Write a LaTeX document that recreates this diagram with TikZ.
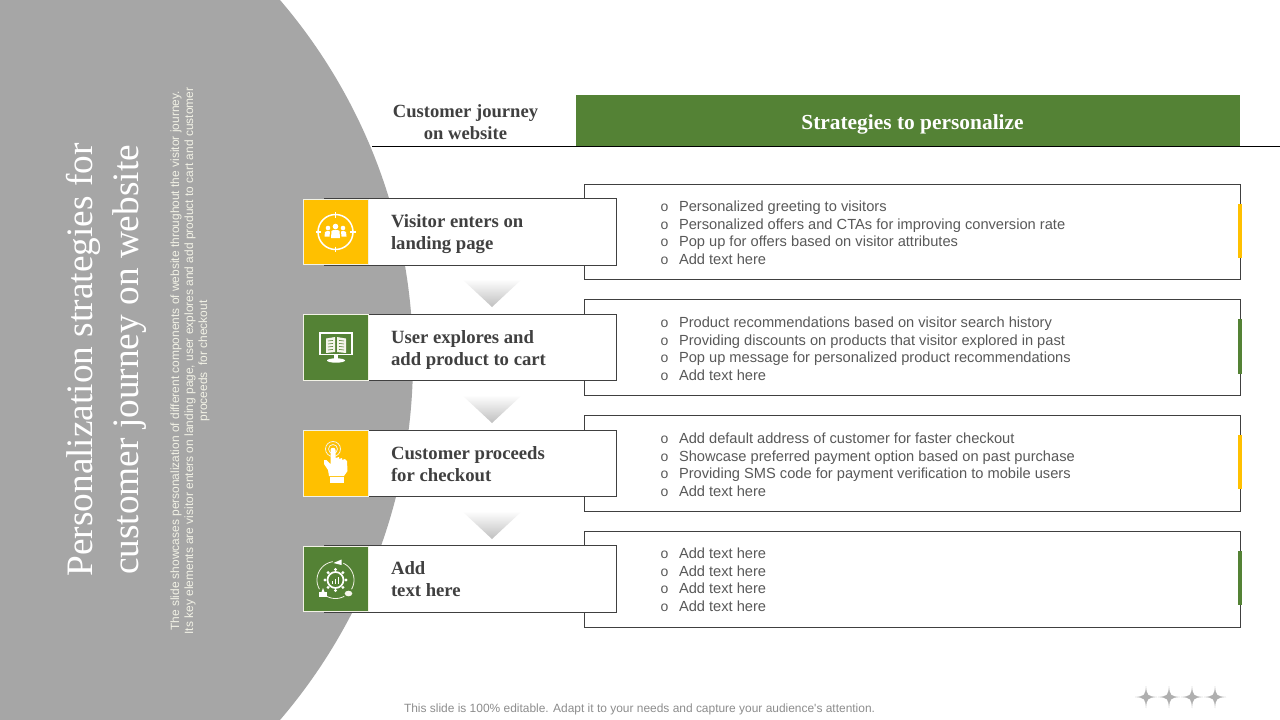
\documentclass[tikz,border=0pt]{standalone}
\usepackage{fontspec}
\setmainfont{Liberation Serif}
\newfontfamily\arialf{Liberation Sans}
\definecolor{panelgray}{HTML}{A6A6A6}
\definecolor{leaf}{HTML}{548235}
\definecolor{amber}{HTML}{FFC000}
\definecolor{inkdark}{HTML}{404040}
\definecolor{inkbody}{HTML}{595959}
\definecolor{iconpale}{HTML}{F2F2E6}
\tikzset{
  every node/.append style={outer sep=0pt},
  stepcard/.style={draw=inkdark,line width=0.9pt,fill=white,minimum width=292.5pt,anchor=north west,inner sep=0},
  stratbox/.style={draw=inkdark,line width=0.9pt,fill=white,minimum width=656pt,anchor=north west,inner sep=0},
  iconbox/.style={draw=iconpale,line width=0.8pt,minimum width=64.5pt,anchor=north west,inner sep=0},
  steptext/.style={font=\fontsize{18.7}{22}\selectfont\bfseries,text=inkdark,anchor=west,align=left,inner sep=0},
  bodyline/.style={font=\arialf\fontsize{14.65}{17}\selectfont,text=inkbody,anchor=base west,inner sep=0},
  bulletmark/.style={font=\arialf\fontsize{14}{14}\selectfont,text=inkbody,anchor=base,inner sep=0},
  downtri/.style={top color=white,bottom color=black!25,draw=none,shading angle=0},
  iconline/.style={draw=white,line width=1.3pt,fill=none},
  iconfill/.style={fill=white,draw=none},
}
\newcommand{\bodyrow}[3]{%
  \node[bulletmark] (#1m) at (664.5,#2) {o};
  \node[bodyline] (#1) at (679,#2) {#3};
}
\newcommand{\sparkle}[2]{%
  \fill[panelgray!90] (#1-11,#2) .. controls (#1-1.5,#2-0.8) and (#1-0.8,#2-1.5) .. (#1,#2-11)
    .. controls (#1+0.8,#2-1.5) and (#1+1.5,#2-0.8) .. (#1+11,#2)
    .. controls (#1+1.5,#2+0.8) and (#1+0.8,#2+1.5) .. (#1,#2+11)
    .. controls (#1-0.8,#2+1.5) and (#1-1.5,#2+0.8) .. (#1-11,#2) -- cycle;
}
\begin{document}
\begin{tikzpicture}[x=1pt,y=-1pt]
\useasboundingbox (0,0) rectangle (1280,720);
\fill[white] (0,0) rectangle (1280,720);
% grey panel
\begin{scope}
  \clip (0,0) rectangle (1280,720);
  \fill[panelgray] (-140.7,360) circle[radius=553.7pt];
\end{scope}
% rotated title and description
\node[rotate=90,align=center,text=white,font=\fontsize{37.3}{46.5}\selectfont,inner sep=0] (title) at (106.5,360)
  {Personalization strategies for\\customer journey on website};
\node[rotate=90,align=center,text=iconpale,font=\arialf\fontsize{11.95}{14}\selectfont,inner sep=0] (desc) at (190,361)
  {The slide showcases personalization of different components of website throughout the visitor journey.\\
   Its key elements are visitor enters on landing page, user explores and add product to cart and customer\\
   proceeds \ for checkout};
% header
\node[anchor=north west,fill=leaf,minimum width=664pt,minimum height=51pt,inner sep=0] (hdrgreen) at (576,95) {};
\node[text=white,font=\fontsize{21.4}{24}\selectfont\bfseries,inner sep=0] (hdrtext) at (912.5,124) {Strategies to personalize};
\node[align=center,text=inkdark,font=\fontsize{18.6}{22}\selectfont\bfseries,inner sep=0] (hdrleft) at (465.5,122)
  {Customer journey\\on website};
\coordinate (ruleL) at (372,146.5);
\coordinate (ruleR) at (1280,146.5);
\draw[black,line width=0.9pt] (ruleL) -- (ruleR);
% strategy boxes
\node[stratbox,minimum height=95pt] (s1) at (584.5,184.5) {};
\node[stratbox,minimum height=96pt] (s2) at (584.5,299.5) {};
\node[stratbox,minimum height=96pt] (s3) at (584.5,415.5) {};
\node[stratbox,minimum height=96pt] (s4) at (584.5,531.5) {};
% accent bars
\fill[amber] (1237.5,204) rectangle (1241.5,258);
\fill[leaf] (1237.5,319) rectangle (1241.5,374);
\fill[amber] (1237.5,435) rectangle (1241.5,489);
\fill[leaf] (1237.5,551) rectangle (1241.5,605);
% step cards
\node[stepcard,minimum height=67pt] (c1) at (324,198.5) {};
\node[stepcard,minimum height=66pt] (c2) at (324,314.5) {};
\node[stepcard,minimum height=66pt] (c3) at (324,430.5) {};
\node[stepcard,minimum height=67pt] (c4) at (324,545.5) {};
% icon squares
\node[iconbox,fill=amber,minimum height=65pt] (i1) at (303.5,199.5) {};
\node[iconbox,fill=leaf,minimum height=66pt] (i2) at (303.5,314.5) {};
\node[iconbox,fill=amber,minimum height=66pt] (i3) at (303.5,430.5) {};
\node[iconbox,fill=leaf,minimum height=65pt] (i4) at (303.5,546.5) {};
% step labels
\node[steptext] (t1) at (391,234.5) {Visitor enters on\\landing page};
\node[steptext] (t2) at (391,349.5) {User explores and\\add product to cart};
\node[steptext] (t3) at (391,464) {Customer proceeds\\for checkout};
\node[steptext] (t4) at (391,579) {Add\\text here};
% down triangles
\shade[downtri] (462,279) -- (522,279) -- (492,307) -- cycle;
\shade[downtri] (462,395) -- (522,395) -- (492,423) -- cycle;
\shade[downtri] (462,511) -- (522,511) -- (492,539) -- cycle;
% body text
\bodyrow{a1}{211}{Personalized greeting to visitors}
\bodyrow{a2}{229}{Personalized offers and CTAs for improving conversion rate}
\bodyrow{a3}{246}{Pop up for offers based on visitor attributes}
\bodyrow{a4}{264}{Add text here}
\bodyrow{b1}{327}{Product recommendations based on visitor search history}
\bodyrow{b2}{345}{Providing discounts on products that visitor explored in past}
\bodyrow{b3}{362}{Pop up message for personalized product recommendations}
\bodyrow{b4}{380}{Add text here}
\bodyrow{d1}{443}{Add default address of customer for faster checkout}
\bodyrow{d2}{461}{Showcase preferred payment option based on past purchase}
\bodyrow{d3}{478}{Providing SMS code for payment verification to mobile users}
\bodyrow{d4}{496}{Add text here}
\bodyrow{e1}{558}{Add text here}
\bodyrow{e2}{576}{Add text here}
\bodyrow{e3}{593}{Add text here}
\bodyrow{e4}{611}{Add text here}
% icon 1: target with people
\begin{scope}[shift={(335.5,232)}]
  \draw[iconline,line width=1.5pt] (0,0) circle[radius=17.5pt];
  \foreach \a in {0,90,180,270}{\draw[iconline] (\a:14.5) -- (\a:20);}
  \fill[white] (0,-5.5) circle[radius=2.8pt];
  \fill[white] (-7.5,-4) circle[radius=2.3pt];
  \fill[white] (7.5,-4) circle[radius=2.3pt];
  \fill[white] (-4.5,6) -- (-4,-1) .. controls (-3,-2.5) and (3,-2.5) .. (4,-1) -- (4.5,6) -- cycle;
  \fill[white] (-11,4.5) -- (-10.5,0) .. controls (-9.5,-1.5) and (-6.5,-1.5) .. (-5.5,-0.5) -- (-6,4.5) -- cycle;
  \fill[white] (11,4.5) -- (10.5,0) .. controls (9.5,-1.5) and (6.5,-1.5) .. (5.5,-0.5) -- (6,4.5) -- cycle;
\end{scope}
% icon 2: monitor with book
\begin{scope}[shift={(336,347)}]
  \draw[iconline,line width=1.1pt] (-16,-14) rectangle (16,7.5);
  \fill[white] (-2,7.5) rectangle (2,12);
  \fill[white] (0,13.5) ellipse[x radius=9pt,y radius=2.2pt];
  \fill[iconpale!80] (-10,-8.5) -- (-1,-10) -- (-1,5) -- (-10,6) -- cycle;
  \fill[iconpale!80] (10,-8.5) -- (1,-10) -- (1,5) -- (10,6) -- cycle;
  \foreach \y in {-6,-3,0,3}{
    \draw[leaf,line width=0.6pt] (-8,\y) -- (-3,\y-0.6);
    \draw[leaf,line width=0.6pt] (8,\y) -- (3,\y-0.6);
  }
\end{scope}
% icon 3: pointing hand
\begin{scope}[shift={(336,463)}]
  \draw[draw=iconpale,line width=0.8pt] (-3,-14) circle[radius=4.5pt];
  \draw[draw=iconpale,line width=0.8pt] (-3,-14) circle[radius=7.5pt];
  \fill[white] (-5.5,-13) .. controls (-5.5,-16) and (-0.5,-16) .. (-0.5,-13) -- (-0.5,-5)
    -- (3,-6) -- (3,-4) -- (6,-5) -- (6,-3) -- (9,-4) -- (11,-2) -- (11.5,8) -- (8,13) -- (-7,13)
    -- (-8,7) -- (-12,1) -- (-12,-3) -- (-9.5,-3) -- (-5.5,1) -- cycle;
  \fill[white] (-6.5,14) rectangle (7.5,20);
\end{scope}
% icon 4: cycle with gear
\begin{scope}[shift={(335.5,580)}]
  \draw[iconpale,line width=0.8pt] plot[domain=150:262,samples=30] (\x:18.5);
  \draw[iconpale,line width=0.8pt] plot[domain=62:118,samples=20] (\x:18.5);
  \draw[iconpale,line width=0.8pt] plot[domain=-65:30,samples=30] (\x:18.5);
  \draw[white,line width=1.7pt] (0,0) circle[radius=8pt];
  \foreach \a in {0,45,...,315}{\fill[white] (\a:10.5) circle[radius=1.6pt];}
  \draw[white,line width=0.9pt] (-3,3.5) -- (-3,1) (0,3.5) -- (0,-1) (3,3.5) -- (3,-3.5);
  \fill[white] (-2,-17) -- (6,-20.5) -- (6,-15) -- cycle;
  \fill[white] (-17,12) rectangle (-9,17);
  \fill[white] (-14,12) -- (-12.5,8) -- (-11,12) -- cycle;
  \fill[iconpale!80] (13,13.5) ellipse[x radius=3.8pt,y radius=2.8pt];
\end{scope}
% footer
\node[anchor=base west,inner sep=0,text=panelgray!85!black,font=\arialf\fontsize{11.95}{14}\selectfont] (footer) at (404,712.5)
  {This slide is 100\% editable. Adapt it to your needs and capture your audience's attention.};
\sparkle{1146}{697}
\sparkle{1169}{697}
\sparkle{1192}{697}
\sparkle{1215}{697}
\end{tikzpicture}
\end{document}
